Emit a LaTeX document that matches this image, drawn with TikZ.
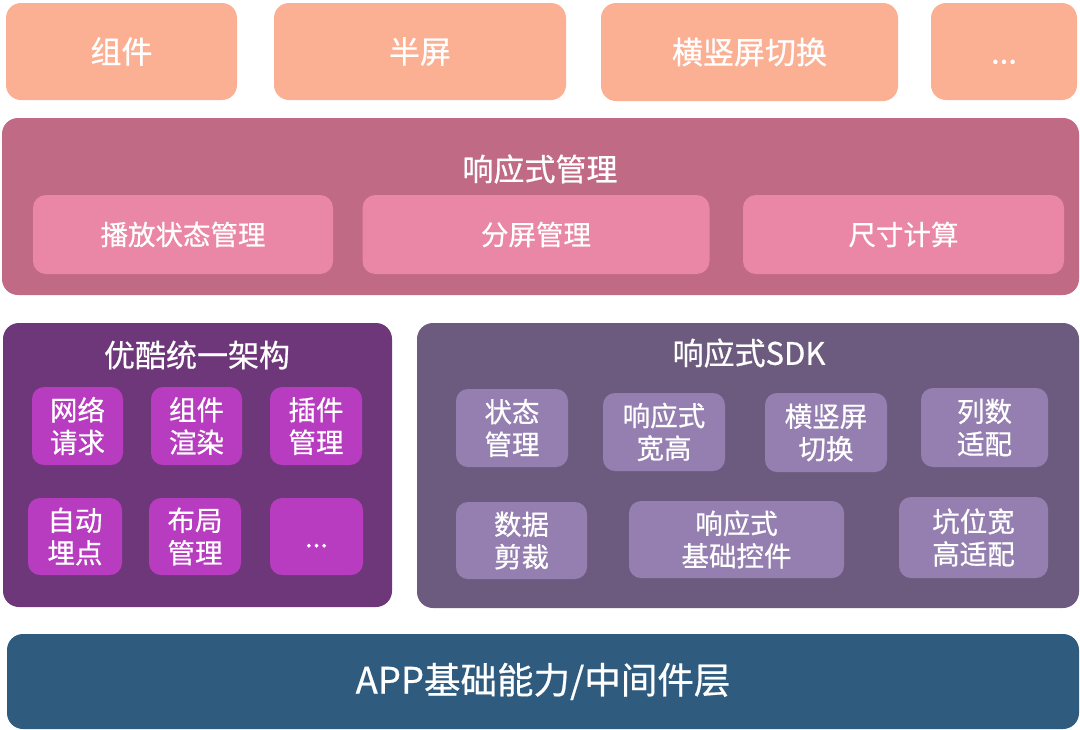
\documentclass[tikz,border=0pt]{standalone}
\usepackage{fontspec}
\setmainfont[FakeBold=0.6]{Noto Sans CJK SC}
\definecolor{topc}{HTML}{FBB094}
\definecolor{bigpink}{HTML}{C06A86}
\definecolor{subpink}{HTML}{EA87A6}
\definecolor{leftpur}{HTML}{6E377A}
\definecolor{magen}{HTML}{B73CBF}
\definecolor{rightpur}{HTML}{6C5B7E}
\definecolor{lav}{HTML}{957FB1}
\definecolor{botblue}{HTML}{2F5B7F}
\newcommand{\mydots}{\vphantom{组}...}
\tikzset{
  box/.style={rectangle, inner sep=0pt, text=white, align=center},
  topbox/.style={box, fill=topc, rounded corners=15pt, font=\fontsize{31}{36}\selectfont},
  bigbox/.style={box, rounded corners=16pt},
  subbox/.style={box, fill=subpink, rounded corners=13pt, font=\fontsize{27.5}{32}\selectfont},
  mbox/.style={box, fill=magen, rounded corners=12pt, font=\fontsize{27.5}{32.5}\selectfont},
  lbox/.style={box, fill=lav, rounded corners=12pt, font=\fontsize{27.5}{32.5}\selectfont},
  title/.style={text=white, inner sep=0pt, font=\fontsize{31}{36}\selectfont},
}
\begin{document}
\begin{tikzpicture}[x=1pt,y=-1pt]
\useasboundingbox (0,0) rectangle (1080,729);
% top row
\node[topbox, minimum width=231pt, minimum height=97pt] (t1) at (121.5,51.5) {组件};
\node[topbox, minimum width=292pt, minimum height=97pt] (t2) at (420,51.5) {半屏};
\node[topbox, minimum width=297pt, minimum height=98pt] (t3) at (749.5,52) {横竖屏切换};
\node[topbox, minimum width=146pt, minimum height=97pt] (t4) at (1004,51.5) {\mydots};
% responsive management
\node[bigbox, fill=bigpink, minimum width=1077pt, minimum height=177pt] (rm) at (540.5,206.5) {};
\node[title] (rmt) at (540,169) {响应式管理};
\node[subbox, minimum width=300pt, minimum height=79pt] (s1) at (183,234.5) {播放状态管理};
\node[subbox, minimum width=347pt, minimum height=79pt] (s2) at (536,234.5) {分屏管理};
\node[subbox, minimum width=321pt, minimum height=79pt] (s3) at (903.5,234.5) {尺寸计算};
% youku
\node[bigbox, fill=leftpur, minimum width=389pt, minimum height=284pt] (yk) at (197.5,465) {};
\node[title] (ykt) at (197,355) {优酷统一架构};
\node[mbox, minimum width=91pt, minimum height=78pt] (m1) at (77.5,426) {网络\\请求};
\node[mbox, minimum width=91pt, minimum height=78pt] (m2) at (196.5,426) {组件\\渲染};
\node[mbox, minimum width=92pt, minimum height=78pt] (m3) at (316,426) {插件\\管理};
\node[mbox, minimum width=94pt, minimum height=77pt] (m4) at (75,536.5) {自动\\埋点};
\node[mbox, minimum width=92pt, minimum height=77pt] (m5) at (195,536.5) {布局\\管理};
\node[mbox, minimum width=93pt, minimum height=77pt] (m6) at (316.5,536.5) {\mydots};
% SDK
\node[bigbox, fill=rightpur, minimum width=662pt, minimum height=285pt] (sdk) at (748,465.5) {};
\node[title] (sdkt) at (749,353) {响应式SDK};
\node[lbox, minimum width=112pt, minimum height=78pt] (l1) at (512,428) {状态\\管理};
\node[lbox, minimum width=122pt, minimum height=78pt] (l2) at (664,432) {响应式\\宽高};
\node[lbox, minimum width=122pt, minimum height=79pt] (l3) at (826,432.5) {横竖屏\\切换};
\node[lbox, minimum width=127pt, minimum height=79pt] (l4) at (984.5,427.5) {列数\\适配};
\node[lbox, minimum width=131pt, minimum height=77pt] (l5) at (521.5,540.5) {数据\\剪裁};
\node[lbox, minimum width=215pt, minimum height=77pt] (l6) at (736.5,539.5) {响应式\\基础控件};
\node[lbox, minimum width=149pt, minimum height=81pt] (l7) at (973.5,537.5) {坑位宽\\高适配};
% bottom
\node[bigbox, fill=botblue, minimum width=1072pt, minimum height=95pt, font=\fontsize{36.5}{40}\selectfont] (app) at (543,681.5) {APP基础能力/中间件层};
\end{tikzpicture}
\end{document}
